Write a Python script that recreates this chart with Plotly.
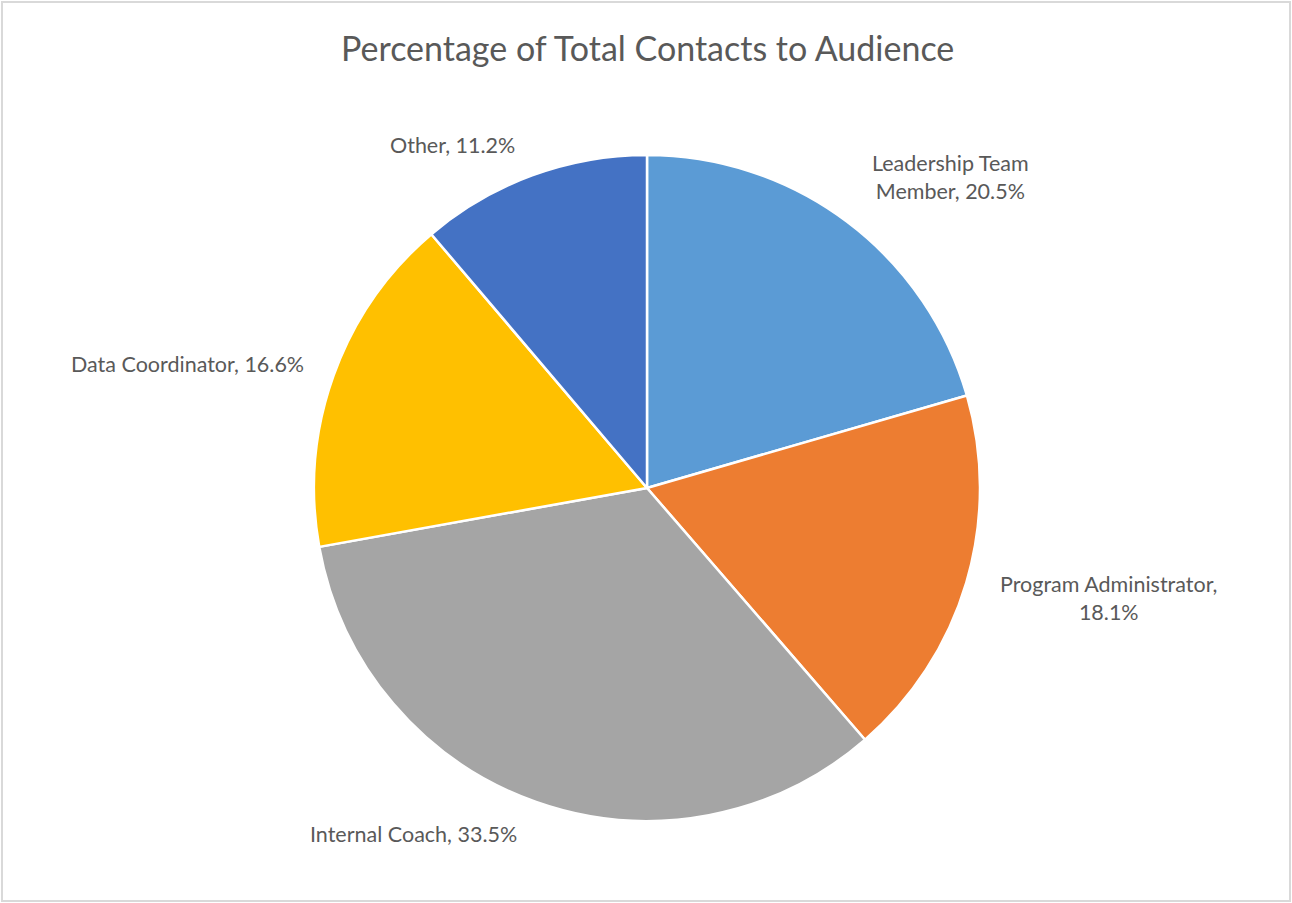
import plotly.graph_objects as go

categories = ["Leadership Team Member", "Program Administrator", "Internal Coach", "Data Coordinator", "Other"]
values = [20.5, 18.1, 33.5, 16.6, 11.2]
colors = ["#5B9BD5", "#ED7D31", "#A5A5A5", "#FFC000", "#4472C4"]
# label display text (line-break placements as in the reference)
label_text = [
    "Leadership Team<br>Member, {:.1f}%",
    "Program Administrator,<br>{:.1f}%",
    "Internal Coach, {:.1f}%",
    "Data Coordinator, {:.1f}%",
    "Other, {:.1f}%",
]
# label centres in pixels (x, y) on the 1292x903 canvas
label_pos = [(950, 177), (1108, 598), (413, 834), (187, 364), (452, 145)]

W, H = 1292, 903
cx, cy, r = 647, 488, 333

fig = go.Figure(go.Pie(
    labels=categories,
    values=values,
    sort=False,
    direction="clockwise",
    rotation=0,
    marker=dict(colors=colors, line=dict(color="white", width=2.5)),
    textinfo="none",
    hoverinfo="label+percent",
    domain=dict(x=[(cx - r) / W, (cx + r) / W], y=[1 - (cy + r) / H, 1 - (cy - r) / H]),
    showlegend=False,
))

font_family = "Lato, 'Open Sans', sans-serif"
for t, v, (px, py) in zip(label_text, values, label_pos):
    fig.add_annotation(
        x=px / W, y=1 - py / H, xref="paper", yref="paper",
        text=t.format(v), showarrow=False, xanchor="center", yanchor="middle",
        align="center", font=dict(size=21.5, color="#595959", family=font_family),
    )

fig.add_annotation(
    x=647 / W, y=1 - 47 / H, xref="paper", yref="paper",
    text="Percentage of Total Contacts to Audience", showarrow=False,
    xanchor="center", yanchor="middle",
    font=dict(size=34, color="#595959", family=font_family),
)

fig.add_shape(type="rect", xref="paper", yref="paper",
              x0=2 / W, x1=1 - 2 / W, y0=2 / H, y1=1 - 2 / H,
              line=dict(color="#D9D9D9", width=2))

fig.update_layout(
    width=W, height=H,
    margin=dict(l=0, r=0, t=0, b=0),
    paper_bgcolor="white", plot_bgcolor="white",
)

fig.write_html(
    "out.html",
    config={"displayModeBar": False},
    post_script="document.body.style.margin='0';document.body.style.overflow='hidden';",
)
